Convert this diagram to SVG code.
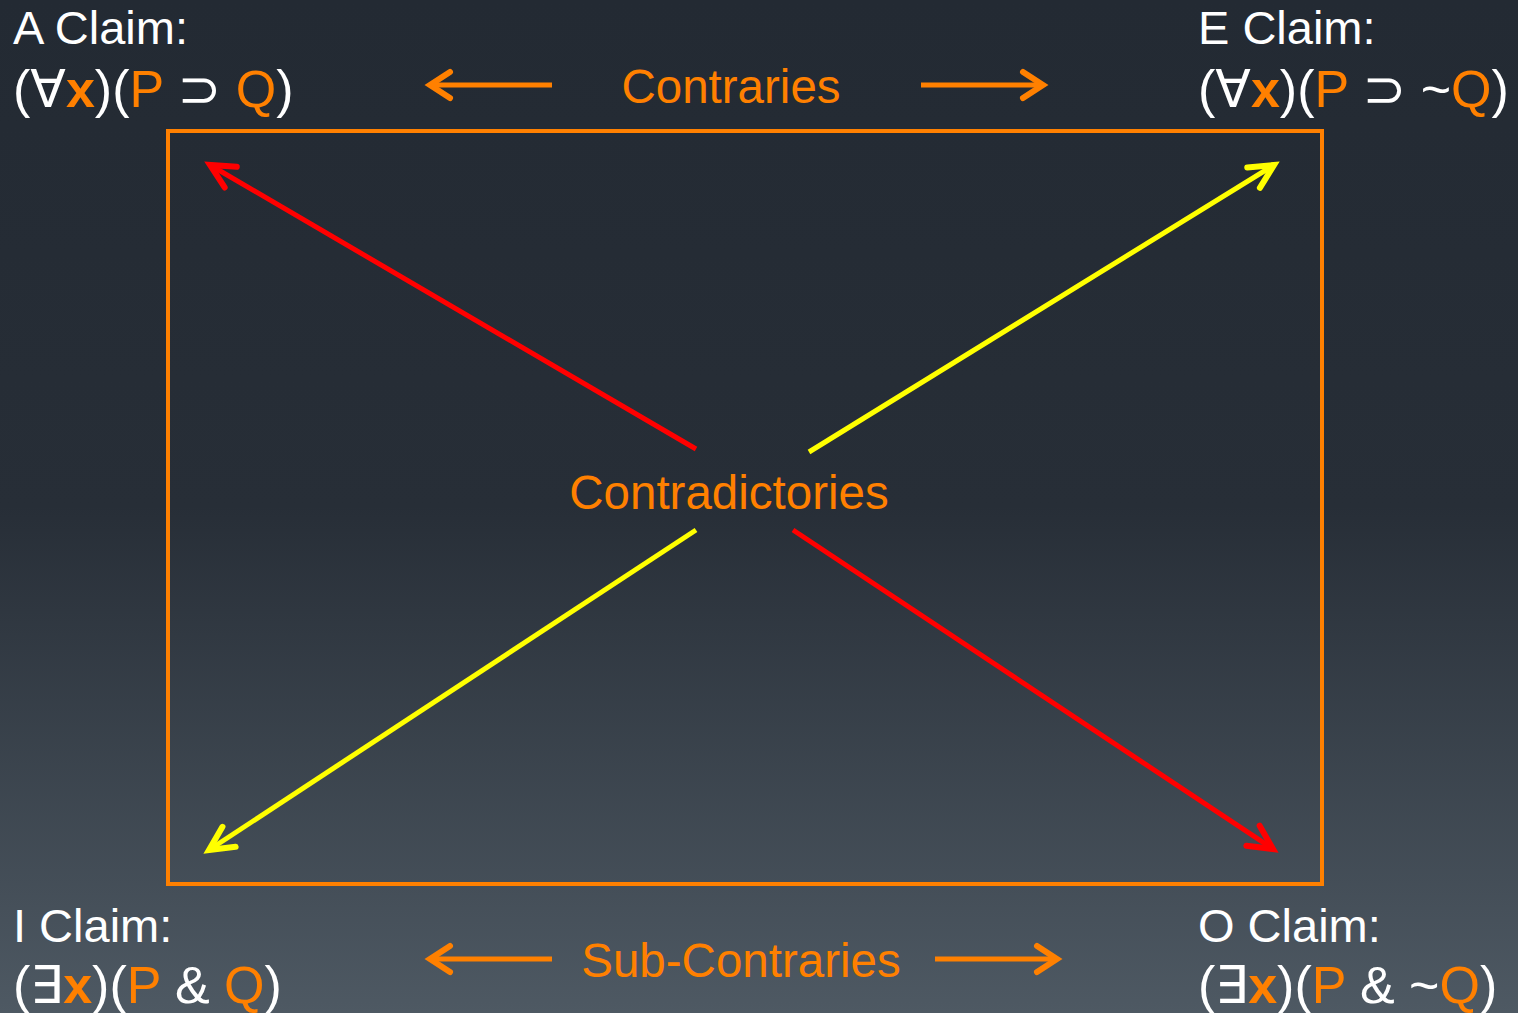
<svg xmlns="http://www.w3.org/2000/svg" width="1518" height="1013" viewBox="0 0 1518 1013">
<defs>
<linearGradient id="bg" x1="0" y1="0" x2="0" y2="1">
<stop offset="0" stop-color="#232a33"/>
<stop offset="0.5" stop-color="#272e37"/>
<stop offset="1" stop-color="#4e5963"/>
</linearGradient>
<marker id="hO" markerUnits="userSpaceOnUse" markerWidth="40" markerHeight="40" refX="0" refY="0" viewBox="-30 -20 40 40" orient="auto" overflow="visible">
<path d="M-20,-13 L0,0 L-20,13" fill="none" stroke="#ff8000" stroke-width="6" stroke-linecap="round" stroke-linejoin="miter"/>
</marker>
<marker id="hR" markerUnits="userSpaceOnUse" markerWidth="40" markerHeight="40" refX="0" refY="0" viewBox="-30 -20 40 40" orient="auto" overflow="visible">
<path d="M-24,-12 L0,0 L-24,12" fill="none" stroke="#ff0000" stroke-width="6" stroke-linecap="round"/>
</marker>
<marker id="hY" markerUnits="userSpaceOnUse" markerWidth="40" markerHeight="40" refX="0" refY="0" viewBox="-30 -20 40 40" orient="auto" overflow="visible">
<path d="M-24,-12 L0,0 L-24,12" fill="none" stroke="#ffff00" stroke-width="6" stroke-linecap="round"/>
</marker>
</defs>
<style>
text{font-family:"Liberation Sans","DejaVu Sans",Arial,sans-serif;font-size:47px;fill:#ffffff}
.f{font-size:52px}
.o{fill:#ff8000}
.b{font-weight:bold;fill:#ff8000}
.lbl{fill:#ff8000;font-size:47.5px}
.ln{stroke-width:5;fill:none}
</style>
<rect x="0" y="0" width="1518" height="1013" fill="url(#bg)"/>
<rect id="frame" x="168" y="131" width="1154" height="753" fill="none" stroke="#ff8000" stroke-width="4"/>

<g id="connectors">
<line class="ln" x1="552" y1="85" x2="430" y2="85" stroke="#ff8000" marker-end="url(#hO)"/>
<line class="ln" x1="921" y1="85" x2="1043" y2="85" stroke="#ff8000" marker-end="url(#hO)"/>
<line class="ln" x1="552" y1="959" x2="430" y2="959" stroke="#ff8000" marker-end="url(#hO)"/>
<line class="ln" x1="935" y1="959" x2="1057" y2="959" stroke="#ff8000" marker-end="url(#hO)"/>
<line class="ln" x1="696" y1="449" x2="210" y2="165" stroke="#ff0000" marker-end="url(#hR)"/>
<line class="ln" x1="809" y1="452" x2="1274" y2="165" stroke="#ffff00" marker-end="url(#hY)"/>
<line class="ln" x1="696" y1="530" x2="209" y2="850" stroke="#ffff00" marker-end="url(#hY)"/>
<line class="ln" x1="793" y1="530" x2="1273" y2="849" stroke="#ff0000" marker-end="url(#hR)"/>
</g>

<g id="nodeA">
<text x="13" y="44">A Claim:</text>
<text class="f" x="13" y="107">(∀<tspan class="b">x</tspan>)(<tspan class="o">P</tspan> ⊃ <tspan class="o">Q</tspan>)</text>
</g>
<g id="nodeE">
<text x="1198" y="44">E Claim:</text>
<text class="f" x="1198" y="107">(∀<tspan class="b">x</tspan>)(<tspan class="o">P</tspan> ⊃ ~<tspan class="o">Q</tspan>)</text>
</g>
<g id="nodeI">
<text x="13" y="942">I Claim:</text>
<text class="f" x="13" y="1003">(∃<tspan class="b">x</tspan>)(<tspan class="o">P</tspan> &amp; <tspan class="o">Q</tspan>)</text>
</g>
<g id="nodeO">
<text x="1198" y="942">O Claim:</text>
<text class="f" x="1198" y="1003">(∃<tspan class="b">x</tspan>)(<tspan class="o">P</tspan> &amp; ~<tspan class="o">Q</tspan>)</text>
</g>

<g id="labels">
<text class="lbl" x="731" y="103" text-anchor="middle">Contraries</text>
<text class="lbl" x="741" y="977" text-anchor="middle">Sub-Contraries</text>
<text class="lbl" x="729" y="509" text-anchor="middle">Contradictories</text>
</g>
</svg>
